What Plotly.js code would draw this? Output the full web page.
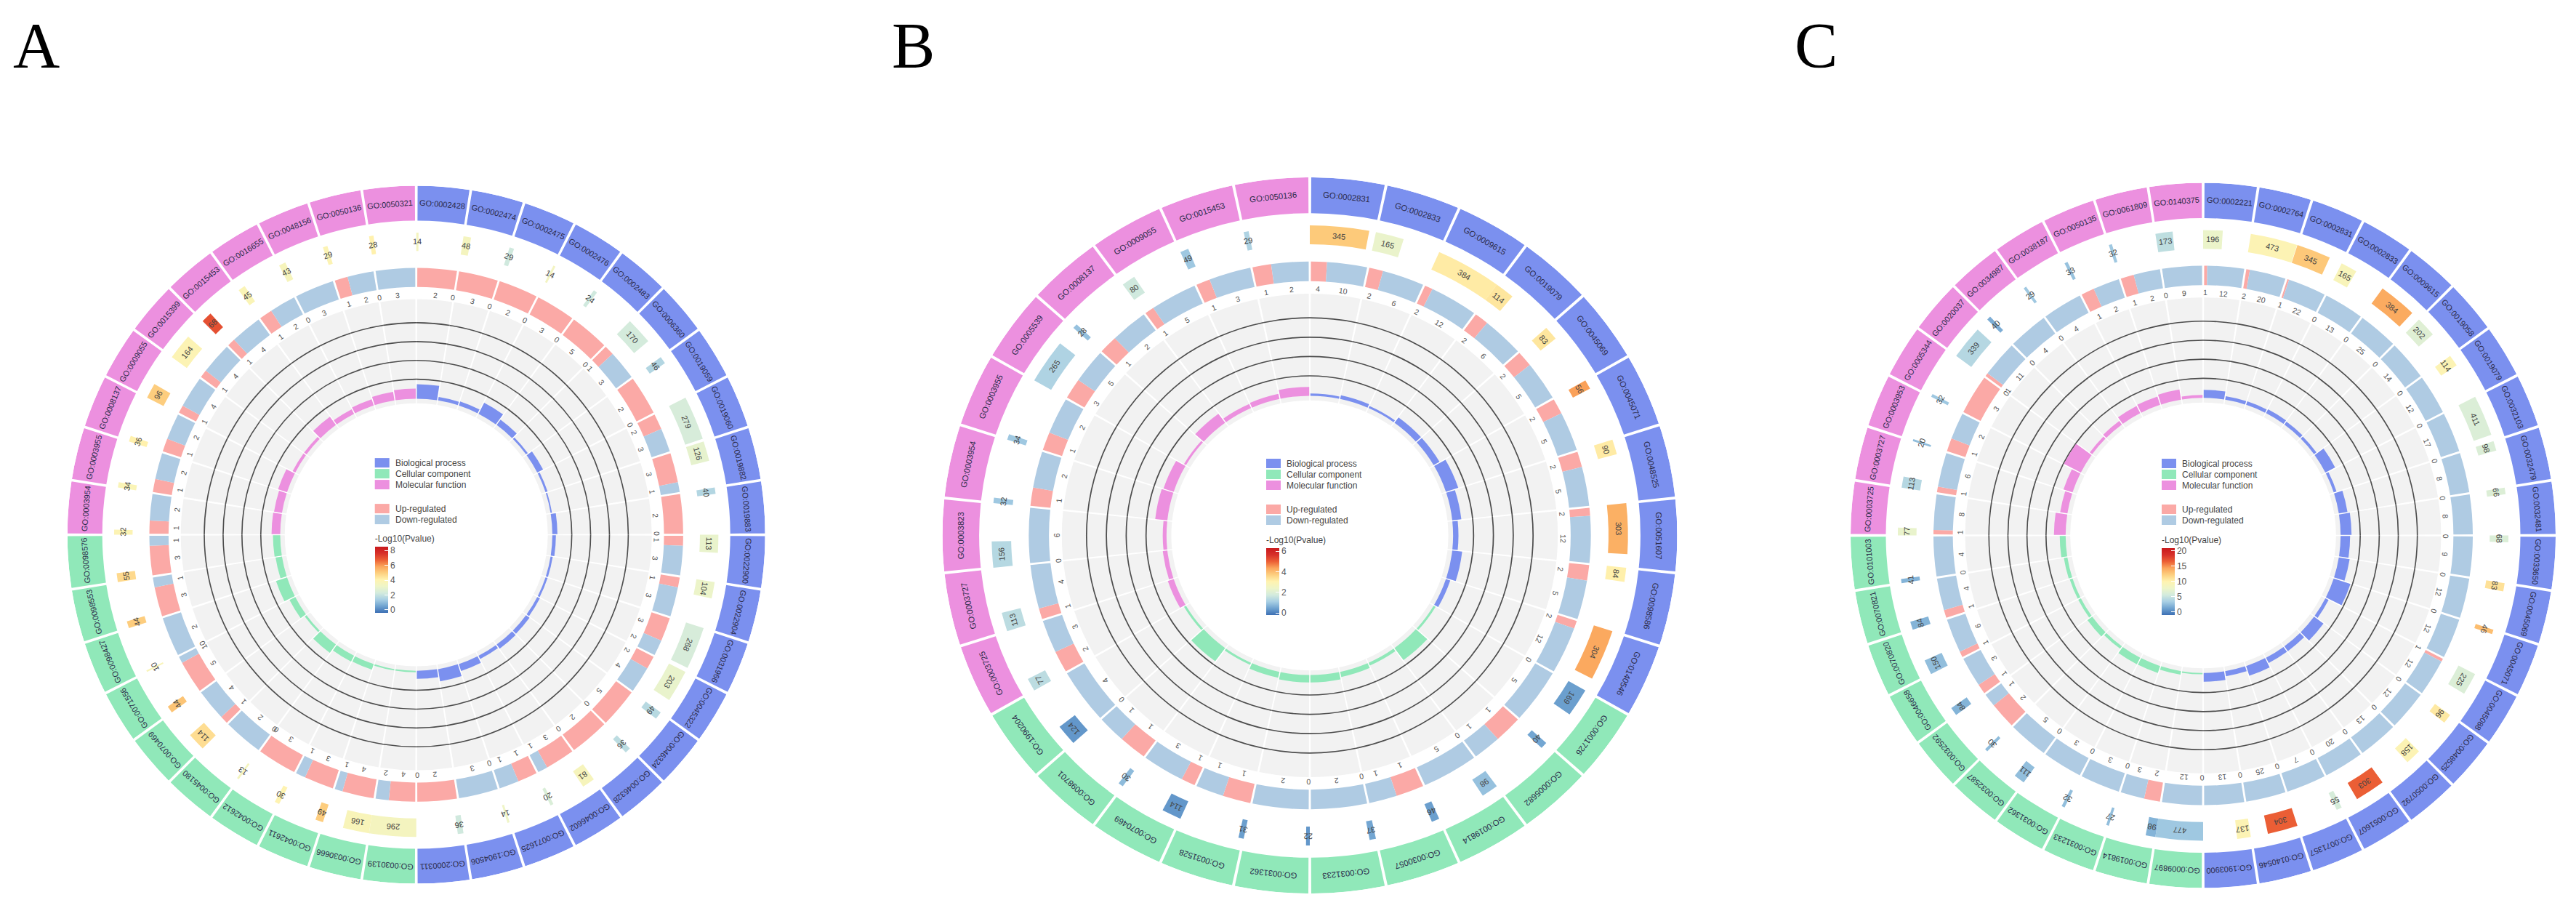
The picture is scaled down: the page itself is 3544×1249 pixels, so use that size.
<!DOCTYPE html>
<html><head><meta charset="utf-8">
<script src="https://cdn.plot.ly/plotly-3.0.1.min.js"></script>
<style>html,body{margin:0;padding:0;background:#fff}#chart{width:3544px;height:1249px}</style>
</head><body><div id="chart"></div>
<script>
// ---- Panel A ----
const goA = ["GO:0002428","GO:0002474","GO:0002475","GO:0002476","GO:0002483","GO:0006360","GO:0019059","GO:0019060","GO:0019882","GO:0019883","GO:0022900","GO:0022904","GO:0031966","GO:0045322","GO:0046324","GO:0046328","GO:0046602","GO:0071625","GO:1904506","GO:2000311",
"GO:0030139","GO:0030666","GO:0042611","GO:0042612","GO:0045180","GO:0070469","GO:0071556","GO:0098427","GO:0098553","GO:0098576",
"GO:0003954","GO:0003955","GO:0008137","GO:0009055","GO:0015399","GO:0015453","GO:0016655","GO:0048156","GO:0050136","GO:0050321"];
const catCountsA = [20,10,10];
const countA = [14,48,29,14,24,170,46,279,126,40,113,104,268,203,49,36,81,20,14,36, 296,166,49,30,13,114,44,10,44,55, 32,34,36,96,164,68,45,43,29,28];
const pvalA = [3.5,3.5,2.2,3.4,2.2,2.3,1.6,2.4,2.9,1.6,3.0,3.1,2.4,3.0,1.7,1.8,3.6,2.5,3.2,2.2, 3.5,3.7,5,4,3.5,4.6,5.2,3.7,5,4.7, 3.9,3.8,4.1,5,3.9,7,3.8,3.6,3.9,4.1];
const upA = [2,3,2,3,5,1,2,2,3,2,1,1,3,2,5,2,3,1,0,2, 4,4,3,3,0,1,5,0,3,3, 1,1,1,1,1,1,1,0,1,0];
const downA = [0,0,0,0,0,3,0,3,1,0,3,3,2,4,0,0,1,1,3,0, 2,1,1,0,2,4,1,2,1,1, 2,2,2,4,4,4,2,3,2,3];
const richA = [.154,.038,.046,.131,.069,.023,.069,.023,.015,.054,.038,.023,.023,.031,.046,.054,.038,.077,.131,.085, .015,.015,.062,.069,.108,.023,.069,.123,.069,.077, .092,.085,.1,.031,.031,.108,.054,.069,.092,.108];
const ticksA = [0,2,4,6,8];

// ---- Panel B ----
const goB = ["GO:0002831","GO:0002833","GO:0009615","GO:0019079","GO:0045069","GO:0045071","GO:0048525","GO:0051607","GO:0098586","GO:0140546",
"GO:0001726","GO:0005682","GO:0019814","GO:0030057","GO:0031233","GO:0031362","GO:0031528","GO:0070469","GO:0098701","GO:1990204",
"GO:0003725","GO:0003727","GO:0003823","GO:0003954","GO:0003955","GO:0005539","GO:0008137","GO:0009055","GO:0015453","GO:0050136"];
const catCountsB = [10,10,10];
const countB = [345,165,384,114,83,56,90,303,84,304, 169,40,98,46,37,22,31,114,30,124, 77,113,156,32,34,265,28,80,49,29];
const pvalB = [3.8,2.3,3.2,3.3,3.3,4.4,3.2,4.2,3.1,4.3, .4,.5,.9,.4,.5,.3,.4,.3,.8,.3, 1.4,1.4,1.3,1,1,1.2,.9,1.7,1,1.2];
const upB = [4,2,2,2,2,2,2,2,2,2, 0,1,0,1,0,0,1,1,1,0, 2,1,0,1,1,3,1,1,1,1];
const downB = [10,6,12,6,5,5,5,12,5,12, 5,1,5,1,2,2,1,3,1,4, 3,4,6,2,2,5,2,5,3,2];
const richB = [.023,.038,.023,.069,.069,.131,.092,.054,.1,.046, .023,.154,.031,.054,.077,.077,.062,.023,.169,.023, .062,.046,.038,.123,.108,.023,.115,.046,.054,.092];
const ticksB = [0,2,4,6];

// ---- Panel C ----
const goC = ["GO:0002221","GO:0002764","GO:0002831","GO:0002833","GO:0009615","GO:0019058","GO:0019079","GO:0032103","GO:0032479","GO:0032481","GO:0033650","GO:0045069","GO:0045071","GO:0045088","GO:0048525","GO:0050792","GO:0051607","GO:0071357","GO:0140546","GO:1903900",
"GO:0009897","GO:0019814","GO:0031233","GO:0031362","GO:0032587","GO:0032592","GO:0046658","GO:0070820","GO:0070821","GO:0101003",
"GO:0003725","GO:0003727","GO:0003953","GO:0005344","GO:0020037","GO:0034987","GO:0038187","GO:0050135","GO:0061809","GO:0140375"];
const catCountsC = [20,10,10];
const countC = [196,473,345,165,384,202,114,411,98,66,68,83,46,225,96,158,303,55,304,137, 477,98,27,32,111,30,84,150,84,41, 77,113,20,32,339,40,29,33,32,173];
const pvalC = [7.5,9.5,12.5,9,14,6.5,9.5,6.2,6.2,6.3,6.2,11,13,6.2,10.5,9.5,16.5,5.8,16.5,9.5, 3,2,2.5,2.5,2.5,2.4,2,2.5,2,2, 7.3,4,2.5,3,4,1.7,3,2.7,3,4.5];
const upC = [1,2,1,0,0,0,0,0,0,0,0,0,0,1,0,0,0,0,0,0, 0,2,0,0,0,2,1,1,1,0, 1,1,1,3,1,0,0,1,1,0];
const downC = [12,20,22,13,25,14,12,17,8,8,9,12,12,12,12,13,20,7,25,13, 12,3,3,3,5,1,3,6,4,4, 8,6,2,0,11,4,4,2,2,9];
const richC = [.085,.038,.038,.046,.038,.031,.115,.031,.092,.115,.1,.115,.185,.038,.123,.062,.062,.108,.054,.092, .015,.038,.077,.077,.031,.062,.031,.031,.038,.062, .123,.077,.1,.2,.031,.046,.085,.092,.108,.031];
const ticksC = [0,5,10,15,20];

// ---- legend text, colours ----
const catNames = ["Biological process","Cellular component","Molecular function"];
const regNames = ["Up-regulated","Down-regulated"];
const catColors = ["#7b90ef","#90e8b9","#ec90df"];
const upColor = "#fba9a6", downColor = "#afcbe3", trackColor = "#f2f2f2", gridColor = "#4d4d4d";
const pScale = [[0,"#3c6fb4"],[.1,"#6fa3d0"],[.2,"#a8cfe4"],[.3,"#d3ebdd"],[.4,"#eef5c8"],[.5,"#fff3b0"],[.6,"#fdd080"],[.7,"#fba65c"],[.8,"#ec5f35"],[.9,"#d7302a"],[1,"#c9191c"]];

// ---- layout of the tracks (fractions of the outer radius) ----
const W = 3544, H = 1249;
const GO_IN = .9, BOX_IN = .813, BOX_OUT = .866, BOX_TXT = .84, UD_OUT = .765, UD_IN = .71, UD_TXT = .689;
const TRACK_OUT = .675, TRACK_IN = .377, BAR_BASE = .39, GRID_STEP = .054, GAP = .45;
const LW = .0034;

const panels = [
 {id:"polar",  letter:"A", lx:19,   cx:572.7, cy:735.6, R:480,   sx:1,     sy:1,    go:goA, cats:catCountsA, count:countA, pval:pvalA, up:upA, down:downA, rich:richA, ticks:ticksA, cmin:-.4, cmax:8.5,  maxCount:296, gof:11, lgx:-57, cb:[755,843]},
 {id:"polar2", letter:"B", lx:1228, cx:1802,  cy:736.5, R:498.5, sx:1.014, sy:.988, go:goB, cats:catCountsB, count:countB, pval:pvalB, up:upB, down:downB, rich:richB, ticks:ticksB, cmin:-.2, cmax:6.3,  maxCount:384, gof:11.4, lgx:-60, cb:[757,846]},
 {id:"polar3", letter:"C", lx:2470, cx:3031,  cy:736.5, R:485,   sx:1,     sy:1,    go:goC, cats:catCountsC, count:countC, pval:pvalC, up:upC, down:downC, rich:richC, ticks:ticksC, cmin:-1,  cmax:20.8, maxCount:477, gof:11, lgx:-57, cb:[757,846]}
];

const traces = [], annotations = [], shapes = [];
const layout = {width:W, height:H, margin:{l:0,r:0,t:0,b:0}, paper_bgcolor:"#fff", showlegend:false, font:{family:"Liberation Sans, Arial, sans-serif", color:"#444"}, annotations, shapes};

function label(p, theta, rf, text, size, color){
  const a = theta*Math.PI/180;
  annotations.push({xref:"paper", yref:"paper", x:(p.cx+p.R*p.sx*rf*Math.sin(a))/W, y:1-(p.cy-p.R*p.sy*rf*Math.cos(a))/H,
    text:String(text), textangle:theta, showarrow:false, xanchor:"center", yanchor:"middle", borderpad:0,
    font:{size, color, family:"Liberation Sans, Arial, sans-serif"}});
}
function bar(p, name, theta, r, base, width, color, extra){
  traces.push(Object.assign({type:"barpolar", subplot:p.id, name, theta, r, base, width, hoverinfo:"skip",
    marker:{color, line:{width:0}}}, extra||{}));
}

panels.forEach(p => {
  const n = p.go.length, step = 360/n, idx = p.go.map((_,i)=>i);
  const mid = idx.map(i => (i+.5)*step), w = idx.map(()=>step-GAP);
  layout[p.id] = {
    domain:{x:[(p.cx-p.R)/W,(p.cx+p.R)/W], y:[1-(p.cy+p.R)/H,1-(p.cy-p.R)/H]},
    bgcolor:"rgba(0,0,0,0)", barmode:"overlay",
    radialaxis:{visible:false, range:[0,1], showgrid:false},
    angularaxis:{visible:false, direction:"clockwise", rotation:90, showgrid:false, thetaunit:"degrees"}
  };

  // grey track with four grid circles on it
  bar(p, "track", mid, idx.map(()=>TRACK_OUT-TRACK_IN), idx.map(()=>TRACK_IN), w, trackColor);
  [1,2,3,4].forEach(k => bar(p, "grid"+k, mid, idx.map(()=>LW), idx.map(()=>BAR_BASE+k*GRID_STEP), idx.map(()=>step), gridColor));

  // category groups
  let from = 0; const groups = p.cats.map(c => { const g = idx.slice(from, from+c); from += c; return g; });
  groups.forEach((g,c) => {
    bar(p, catNames[c]+" bars", g.map(i=>mid[i]), g.map(i=>p.rich[i]*GRID_STEP/.2), g.map(()=>BAR_BASE), g.map(()=>step-GAP), catColors[c]);
    bar(p, catNames[c], g.map(i=>mid[i]), g.map(()=>1-GO_IN), g.map(()=>GO_IN), g.map(()=>step-GAP), catColors[c]);
  });

  // up / down ring
  const usable = step-GAP, sum = i => Math.max(p.up[i]+p.down[i],1);
  const startA = i => i*step+GAP/2;
  const upW = idx.map(i => usable*p.up[i]/sum(i)), dnW = idx.map(i => usable*p.down[i]/sum(i));
  const upMid = idx.map(i => startA(i)+upW[i]/2), dnMid = idx.map(i => startA(i)+upW[i]+dnW[i]/2);
  bar(p, regNames[0], upMid, idx.map(()=>UD_OUT-UD_IN), idx.map(()=>UD_IN), upW, upColor);
  bar(p, regNames[1], dnMid, idx.map(()=>UD_OUT-UD_IN), idx.map(()=>UD_IN), dnW, downColor);

  // count boxes coloured by -log10(P)
  const boxW = idx.map(i => step*p.count[i]/p.maxCount), boxMid = idx.map(i => i*step+boxW[i]/2);
  traces.push({type:"barpolar", subplot:p.id, name:"-Log10(Pvalue)", theta:boxMid, r:idx.map(()=>BOX_OUT-BOX_IN), base:idx.map(()=>BOX_IN), width:boxW, hoverinfo:"skip",
    marker:{color:p.pval, colorscale:pScale, cmin:p.cmin, cmax:p.cmax, line:{width:0}, showscale:true,
      colorbar:{x:(p.cx+p.lgx)/W, xanchor:"left", xpad:0, ypad:0, y:1-(p.cb[0]-22)/H, yanchor:"top", lenmode:"pixels", len:p.cb[1]-p.cb[0]+22, thicknessmode:"pixels", thickness:18,
        outlinewidth:0, ticks:"inside", ticklen:5, tickcolor:"#fff", tickwidth:1, tickvals:p.ticks, ticktext:p.ticks.map(String), tickfont:{size:12,color:"#555"}, ticklabelposition:"outside",
        title:{text:"-Log10(Pvalue)", side:"top", font:{size:12,color:"#444"}}}}});

  // labels
  idx.forEach(i => {
    label(p, mid[i], (GO_IN+1)/2, p.go[i], p.gof, "#2b2b4a");
    label(p, boxMid[i], BOX_TXT, p.count[i], 11, "#444");
    label(p, upMid[i], UD_TXT, p.up[i], 10.5, "#555");
    label(p, dnMid[i], UD_TXT, p.down[i], 10.5, "#555");
  });

  // legend drawn in the hole
  const rows = [[catNames[0],catColors[0],-99],[catNames[1],catColors[1],-84],[catNames[2],catColors[2],-69],[regNames[0],upColor,-36],[regNames[1],downColor,-21]];
  rows.forEach(([t,col,dy]) => {
    const yc = p.cy+dy, x0 = p.cx+p.lgx;
    shapes.push({type:"rect", xref:"paper", yref:"paper", x0:x0/W, x1:(x0+20)/W, y0:1-(yc+6.5)/H, y1:1-(yc-6.5)/H, fillcolor:col, line:{width:0}, layer:"above"});
    annotations.push({xref:"paper", yref:"paper", x:(x0+26)/W, y:1-yc/H, text:t, showarrow:false, xanchor:"left", yanchor:"middle", font:{size:12,color:"#444"}});
  });

  // panel letter
  annotations.push({xref:"paper", yref:"paper", x:p.lx/W, y:1-62/H, text:p.letter, showarrow:false, xanchor:"left", yanchor:"middle", xshift:-3,
    font:{size:89,color:"#000",family:"Liberation Serif, Times New Roman, serif"}});
});

Plotly.newPlot("chart", traces, layout, {displayModeBar:false, staticPlot:true}).then(gd => {
  // the reference draws panel B very slightly oval; a polar subplot is always round
  panels.filter(p => p.sx !== 1 || p.sy !== 1).forEach(p => {
    const g = gd.querySelector(".polarlayer ." + p.id);
    if (g) g.setAttribute("transform", `translate(${p.cx} ${p.cy}) scale(${p.sx} ${p.sy}) translate(${-p.cx} ${-p.cy})`);
  });
});
</script></body></html>
